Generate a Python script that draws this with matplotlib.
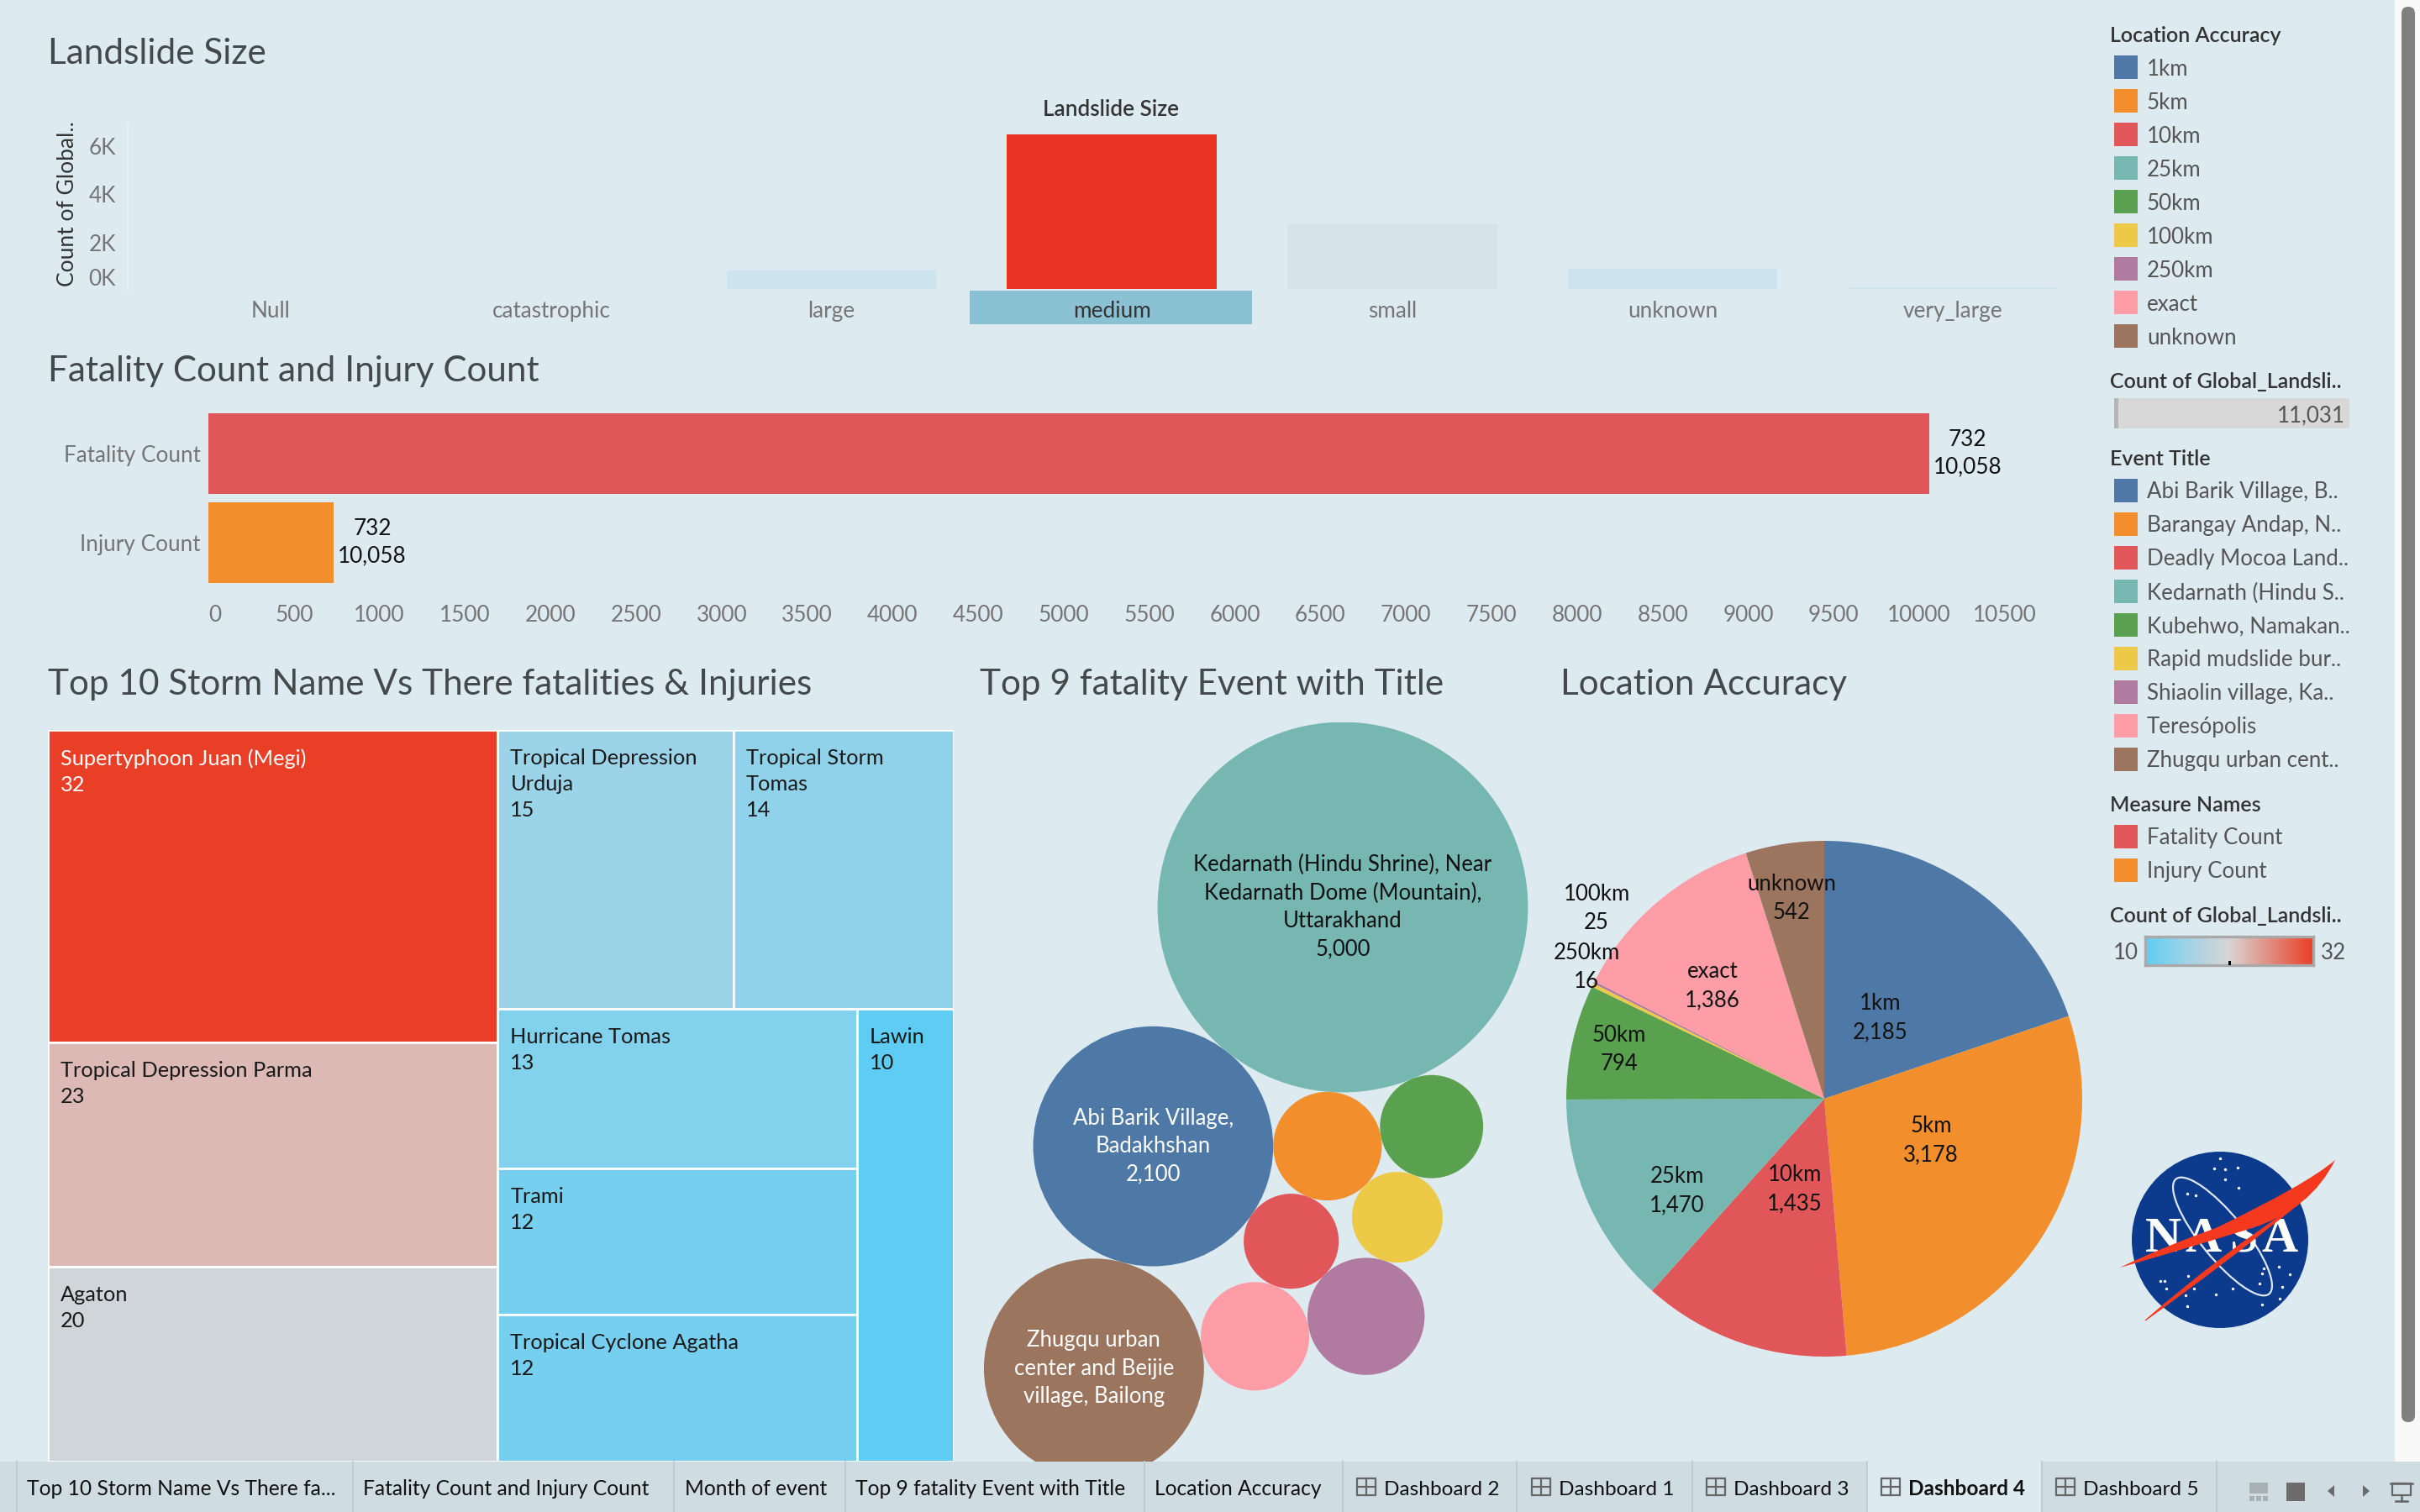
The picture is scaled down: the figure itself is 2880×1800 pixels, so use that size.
import math
import numpy as np
import matplotlib
matplotlib.use('Agg')
import matplotlib.pyplot as plt
from matplotlib.colors import LinearSegmentedColormap
from matplotlib.patches import Rectangle, Circle, Ellipse, PathPatch, Polygon, FancyBboxPatch
from matplotlib.path import Path
from matplotlib.transforms import ScaledTranslation

plt.rcParams['font.family'] = ['Lato', 'DejaVu Sans']

BG = '#DDEAF0'
TAB = '#CFDCE1'
W, H = 2880, 1800
PT = 72 / 200  # one image pixel in points

size_names = ['Null', 'catastrophic', 'large', 'medium', 'small', 'unknown', 'very_large']
size_counts = [0, 0, 780, 6420, 2720, 840, 70]
size_ticks = [0, 2000, 4000, 6000]
size_tick_labels = ['0K', '2K', '4K', '6K']

measure_names = ['Fatality Count', 'Injury Count']
measure_values = [10058, 732]
measure_ticks = list(range(0, 11000, 500))

storm_names = ['Supertyphoon Juan (Megi)', 'Tropical Depression Parma', 'Agaton',
               'Tropical Depression\nUrduja', 'Tropical Storm\nTomas', 'Hurricane Tomas',
               'Trami', 'Tropical Cyclone Agatha', 'Lawin']
storm_values = [32, 23, 20, 15, 14, 13, 12, 12, 10]
# how the treemap nests, as indexes into storm_values; columns and rows alternate
storm_tree = [[0, 1, 2], [[3, 4], [[5, 6, 7], 8]]]

event_names = ['Abi Barik Village, B..', 'Barangay Andap, N..', 'Deadly Mocoa Land..',
               'Kedarnath (Hindu S..', 'Kubehwo, Namakan..', 'Rapid mudslide bur..',
               'Shiaolin village, Ka..', 'Teresópolis', 'Zhugqu urban cent..']
event_values = [2100, 430, 329, 5000, 388, 300, 500, 429, 1765]

accuracy_names = ['1km', '5km', '10km', '25km', '50km', '100km', '250km', 'exact', 'unknown']
accuracy_values = [2185, 3178, 1435, 1470, 794, 25, 16, 1386, 542]

palette = ['#4E79A7', '#F28E2B', '#E15759', '#76B7B2', '#59A14F',
           '#EDC948', '#B07AA1', '#FF9DA7', '#9C755F']
measure_colors = ['#E15759', '#F28E2B']

heat = LinearSegmentedColormap.from_list(
    'heat', [(0, '#5FCDF3'), (5 / 22, '#9BD3E8'), (0.5, '#D9D5D5'), (1, '#E93F26')])

tab_names = ['Top 10 Storm Name Vs There fa...', 'Fatality Count and Injury Count', 'Month of event',
             'Top 9 fatality Event with Title', 'Location Accuracy']
dash_names = ['Dashboard 2', 'Dashboard 1', 'Dashboard 3', 'Dashboard 4', 'Dashboard 5']

fig = plt.figure(figsize=(14.4, 9), dpi=200, facecolor=BG)


def pixel_axes(x0, y0, x1, y1, zorder=2):
    ax = fig.add_axes([x0 / W, 1 - y1 / H, (x1 - x0) / W, (y1 - y0) / H], zorder=zorder)
    ax.patch.set_alpha(0)
    return ax


def overlay(zorder):
    ax = pixel_axes(0, 0, W, H, zorder)
    ax.set_xlim(0, W)
    ax.set_ylim(H, 0)
    ax.axis('off')
    return ax


under = overlay(1)
top = overlay(5)

# sheet titles
for x, y, s in [(57, 64, 'Landslide Size'), (57, 442, 'Fatality Count and Injury Count'),
                (57, 815, 'Top 10 Storm Name Vs There fatalities & Injuries'),
                (1166, 815, 'Top 9 fatality Event with Title'), (1857, 815, 'Location Accuracy')]:
    under.text(x, y, s, fontsize=15.2, color='#44494C', va='center', ha='left')

# landslide size bars
ax = pixel_axes(152, 149, 2491, 344)
size_colors = ['#CCE4EE'] * 7
size_colors[3] = '#EA3423'
size_colors[4] = '#D6E4EA'
ax.bar(size_names, size_counts, width=250 / 334, color=size_colors)
ax.set_xlim(-0.51, 6.5)
ax.set_ylim(0, 195 / 28.65 * 1000)
for s in ['top', 'right', 'bottom']:
    ax.spines[s].set_visible(False)
ax.spines['left'].set_color('#EDF2F4')
ax.tick_params(length=0, labelsize=9.4, labelcolor='#757575')
ax.tick_params(axis='x', pad=5.1)
ax.tick_params(axis='y', pad=5.1)
ax.set_xticks(range(7))
ax.set_xticklabels(size_names)
ax.get_xticklabels()[3].set_color('#333333')
ax.set_yticks(size_ticks)
ax.set_yticklabels(size_tick_labels)
for i, lab in enumerate(ax.get_yticklabels()):
    dy = 14 if i == 0 else -2
    lab.set_transform(lab.get_transform() + ScaledTranslation(0, dy / 200, fig.dpi_scale_trans))
under.add_patch(Rectangle((1154, 346), 336, 40, color='#8BC2D3', lw=0))
under.text(1322, 131, 'Landslide Size', fontsize=9.4, color='#333333', ha='center', va='center', weight='semibold')
under.text(81, 243, 'Count of Global..', fontsize=9.5, color='#333333', rotation=90, ha='center', va='center')

# fatality and injury bars
ax = pixel_axes(248, 487, 2491, 699)
ax.barh(measure_names, measure_values, height=96 / 106, color=measure_colors)
ax.set_ylim(1.5, -0.5)
ax.set_xlim(0, 2243 / 0.2036)
for s in ax.spines.values():
    s.set_visible(False)
ax.tick_params(length=0, labelsize=9.4, labelcolor='#757575')
ax.tick_params(axis='y', pad=3.4)
ax.tick_params(axis='x', pad=7.6)
ax.set_xticks(measure_ticks)
ax.get_xticklabels()[0].set_ha('left')
for i, v in enumerate(measure_values):
    ax.annotate('732\n10,058', (v, i), xytext=(46 * PT, 0), textcoords='offset points',
                ha='center', va='center', fontsize=9.4, color='#111111', linespacing=1.38)


# treemap
def lay_out(node, x, y, w, h, across, out):
    if isinstance(node, int):
        out[node] = (x, y, w, h)
        return storm_values[node]
    total = weight(node)
    for child in node:
        share = weight(child) / total
        if across:
            lay_out(child, x, y, w * share, h, not across, out)
            x += w * share
        else:
            lay_out(child, x, y, w, h * share, not across, out)
            y += h * share


def weight(node):
    return storm_values[node] if isinstance(node, int) else sum(weight(c) for c in node)


cells = {}
lay_out(storm_tree, 0, 0, 1, 1, True, cells)
ax = pixel_axes(57, 869, 1135, 1740)
ax.set_xlim(0, 1)
ax.set_ylim(1, 0)
ax.axis('off')
for i, name in enumerate(storm_names):
    x, y, w, h = cells[i]
    ax.add_patch(Rectangle((x, y), w, h, facecolor=heat((storm_values[i] - 10) / 22), edgecolor='white', lw=1))
    ax.annotate('{}\n{}'.format(name, storm_values[i]), (x, y), xytext=(15 * PT, -22 * PT),
                textcoords='offset points', va='top', ha='left', fontsize=9.15, linespacing=1.42,
                color='white' if i == 0 else '#1A1A1A')


# packed bubbles: each one touches the two named circles, so only the sizes place it
def touch(a, b, r):
    (ax0, ay0, ar), (bx0, by0, br) = a, b
    d = math.hypot(bx0 - ax0, by0 - ay0)
    t = (d * d + (ar + r) ** 2 - (br + r) ** 2) / (2 * d)
    s = math.sqrt((ar + r) ** 2 - t * t)
    ux, uy = (bx0 - ax0) / d, (by0 - ay0) / d
    return ax0 + t * ux - s * uy, ay0 + t * uy + s * ux, r


radii = [math.sqrt(v) for v in event_values]
placed = {3: (0, 0, radii[3])}
start = math.radians(-128.4)
placed[0] = ((radii[3] + radii[0]) * math.cos(start), (radii[3] + radii[0]) * math.sin(start), radii[0])
for i, a, b in [(1, 3, 0), (4, 3, 1), (5, 4, 1), (2, 1, 0), (6, 5, 2), (7, 6, 2), (8, 7, 0)]:
    placed[i] = touch(placed[a], placed[b], radii[i])

scale = 220.4 / radii[3]
cx, cy = 1598, 1080
ax = pixel_axes(1150, 860, 1850, 1740)
ax.set_xlim((1150 - cx) / scale, (1850 - cx) / scale)
ax.set_ylim((cy - 1740) / scale, (cy - 860) / scale)
ax.axis('off')
for i in range(9):
    x, y, r = placed[i]
    ax.add_patch(Circle((x, y), r, color=palette[i], lw=0))
for i, s, c in [(3, 'Kedarnath (Hindu Shrine), Near\nKedarnath Dome (Mountain),\nUttarakhand\n5,000', '#111111'),
                (0, 'Abi Barik Village,\nBadakhshan\n2,100', 'white'),
                (8, 'Zhugqu urban\ncenter and Beijie\nvillage, Bailong', 'white')]:
    ax.text(placed[i][0], placed[i][1], s, ha='center', va='center', fontsize=9.25, color=c, linespacing=1.42)

# pie
ax = pixel_axes(2171 - 310, 1308 - 310, 2171 + 310, 1308 + 310)
ax.pie(accuracy_values, colors=palette, startangle=90, counterclock=False, radius=1)
ax.set_xlim(-310 / 307, 310 / 307)
ax.set_ylim(-310 / 307, 310 / 307)
pie_label_at = [(2238, 1212), (2298, 1358), (2136, 1416), (1996, 1418), (1927, 1250),
                (1900, 1082), (1888, 1152), (2038, 1174), (2132, 1070)]
for (x, y), n, v in zip(pie_label_at, accuracy_names, accuracy_values):
    top.text(x, y, '{}\n{:,}'.format(n, v), ha='center', va='center', fontsize=9.25, color='#111111', linespacing=1.45)


# legends
def legend_head(y, s):
    under.text(2511, y, s, fontsize=9, color='#333333', va='center', ha='left', weight='semibold')


def legend_rows(y, names, colors):
    for i, (n, c) in enumerate(zip(names, colors)):
        under.add_patch(Rectangle((2516, y + 40 * i), 28, 28, color=c, lw=0))
        under.text(2555, y + 16 + 40 * i, n, fontsize=9.3, color='#555555', va='center', ha='left')


legend_head(43, 'Location Accuracy')
legend_rows(66, accuracy_names, palette)
legend_head(455, 'Count of Global_Landsli..')
under.add_patch(Rectangle((2516, 474), 280, 36, color='#D8D8D8', lw=0))
under.add_patch(Rectangle((2516, 474), 5, 36, color='#B5B5B5', lw=0))
under.text(2791, 495, '11,031', fontsize=9.3, color='#555555', va='center', ha='right')
legend_head(547, 'Event Title')
legend_rows(570, event_names, palette)
legend_head(959, 'Measure Names')
legend_rows(982, measure_names, measure_colors)
legend_head(1091, 'Count of Global_Landsli..')
ax = pixel_axes(2553, 1115, 2753, 1149)
ax.imshow(np.linspace(0, 1, 256)[None, :], cmap=heat, aspect='auto')
ax.set_xticks([])
ax.set_yticks([])
for s in ax.spines.values():
    s.set_color('#A9A9A9')
    s.set_linewidth(1.2)
under.text(2545, 1134, '10', fontsize=9.3, color='#555555', va='center', ha='right')
under.text(2762, 1134, '32', fontsize=9.3, color='#555555', va='center', ha='left')
top.add_patch(Rectangle((2652, 1144), 3, 5, color='black', lw=0))

# logo
under.add_patch(Circle((2642, 1476), 105, color='#0C3B8D', lw=0))
stars = [(2642, 1379), (2635, 1391), (2648, 1392), (2663, 1390), (2664, 1414), (2648, 1404), (2613, 1423),
         (2603, 1421), (2694, 1510), (2712, 1508), (2725, 1517), (2716, 1532), (2713, 1546), (2692, 1516),
         (2689, 1528), (2576, 1525), (2571, 1525), (2578, 1534), (2604, 1519), (2611, 1534), (2601, 1542),
         (2603, 1555), (2637, 1541), (2657, 1534), (2692, 1553)]
under.scatter(*zip(*stars), s=1.5, color='white', lw=0, zorder=3)
under.add_patch(Ellipse((2645, 1472), 176, 52, angle=51, fill=False, edgecolor='#DDE6F2', lw=0.8, zorder=3))
for x, s in zip([2574, 2622, 2670, 2713], 'NASA'):
    under.text(x, 1476, s, fontsize=21.5, color='white', weight='bold', ha='center', va='center',
               family='Liberation Serif', zorder=4)
wedge = Path([(2779, 1381), (2745, 1410), (2637, 1462), (2570, 1486), (2523, 1509),
              (2590, 1490), (2680, 1462), (2750, 1440), (2779, 1381)],
             [Path.MOVETO, Path.CURVE3, Path.CURVE3, Path.CURVE3, Path.CURVE3,
              Path.CURVE3, Path.CURVE3, Path.CURVE3, Path.CURVE3])
under.add_patch(PathPatch(wedge, facecolor='#F5391F', edgecolor='none', zorder=5))
thin = Path([(2737, 1432), (2640, 1496), (2553, 1572), (2645, 1506), (2737, 1432)],
            [Path.MOVETO, Path.CURVE3, Path.CURVE3, Path.CURVE3, Path.CURVE3])
under.add_patch(PathPatch(thin, facecolor='#F5391F', edgecolor='#F5391F', lw=0.4, zorder=5))

# scrollbar
top.add_patch(Rectangle((2850, 0), 30, 1740, color='#F9F9F9', lw=0))
top.add_patch(FancyBboxPatch((2862, 12), 8, 1677, boxstyle='round,pad=4,rounding_size=8',
                             facecolor='#808080', edgecolor='#808080', lw=0))

# tab strip
top.add_patch(Rectangle((0, 1740), W, 60, color=TAB, lw=0))
top.add_patch(Rectangle((2222, 1740), 208, 60, color=BG, lw=0))
for x in [20, 420, 802, 1006, 1362, 1598, 1805, 2014, 2222, 2430, 2638]:
    top.plot([x, x], [1740, 1800], color='#BECDD3', lw=0.7)
for x, s in zip([32, 432, 815, 1018, 1374], tab_names):
    top.text(x, 1773, s, fontsize=8.85, color='#111111', va='center', ha='left')
for i, s in enumerate(dash_names):
    x = 1615 + 208 * i
    top.add_patch(Rectangle((x, 1760), 22, 20, fill=False, edgecolor='#666666', lw=0.8))
    top.plot([x + 11, x + 11], [1760, 1780], color='#666666', lw=0.8)
    top.plot([x, x + 22], [1770, 1770], color='#666666', lw=0.8)
    top.text(x + 32, 1773, s, fontsize=8.8, color='#111111', va='center', ha='left',
             weight='bold' if s == 'Dashboard 4' else 'normal')
top.add_patch(Rectangle((2677, 1765), 22, 13, color='#A9B1B3', lw=0))
for x in [2677, 2685, 2693]:
    top.add_patch(Rectangle((x, 1781), 6, 6, color='#A9B1B3', lw=0))
top.add_patch(Rectangle((2721, 1765), 22, 22, color='#6B6B6B', lw=0))
top.add_patch(Polygon([(2770, 1775), (2778, 1768), (2778, 1782)], color='#6B6B6B', lw=0))
top.add_patch(Polygon([(2820, 1775), (2812, 1768), (2812, 1782)], color='#6B6B6B', lw=0))
top.add_patch(Rectangle((2847, 1766), 22, 14, fill=False, edgecolor='#666666', lw=0.8))
top.plot([2845, 2871], [1766, 1766], color='#666666', lw=0.9)
top.plot([2858, 2858], [1780, 1787], color='#666666', lw=0.9)
top.plot([2851, 2865], [1787, 1787], color='#666666', lw=0.9)

fig.savefig('out.png', dpi=200, facecolor=BG)
